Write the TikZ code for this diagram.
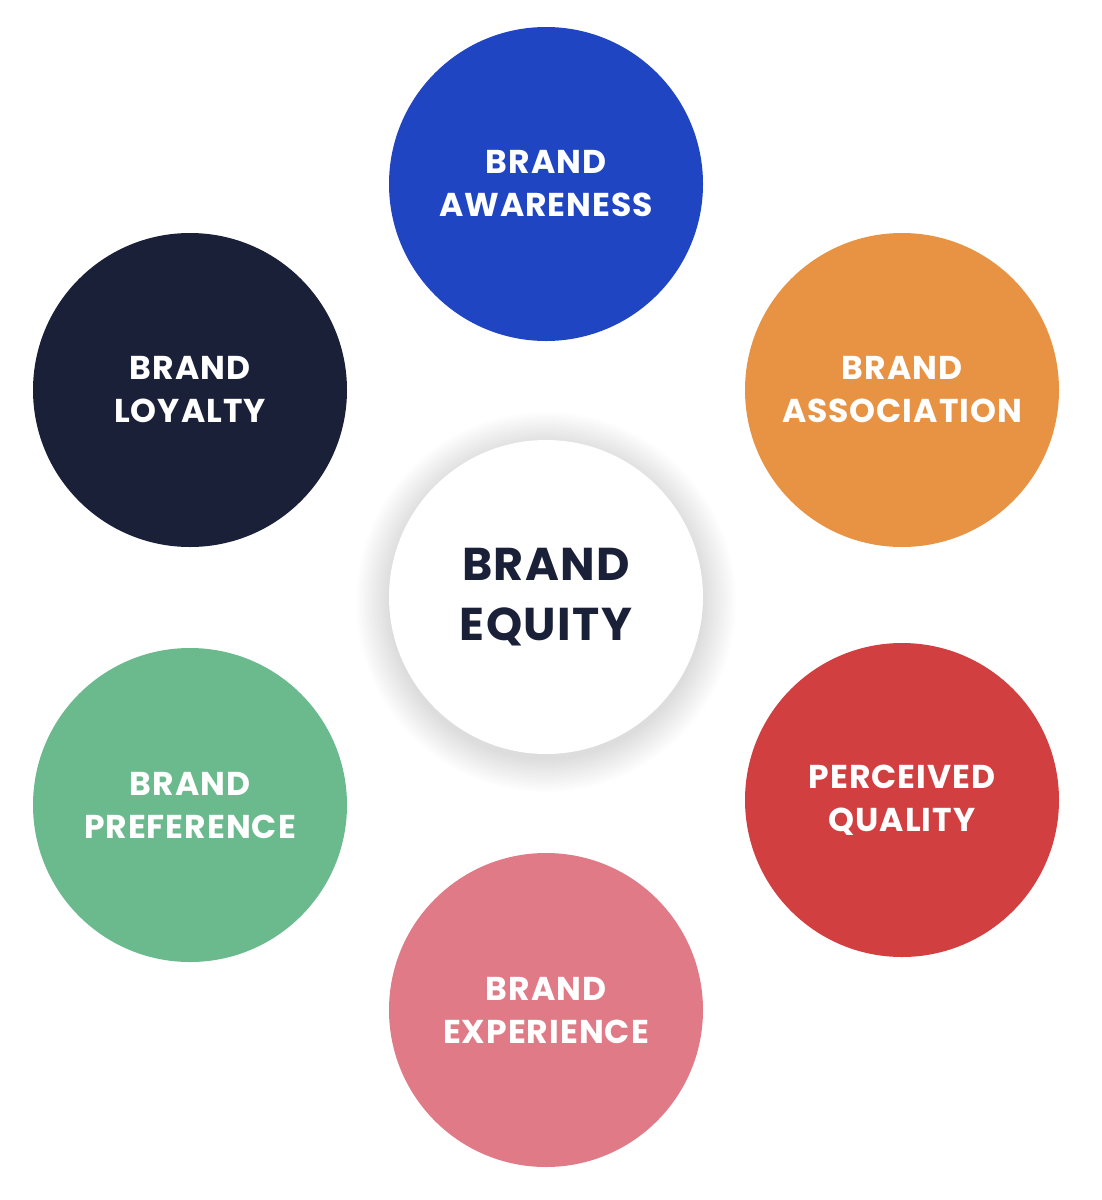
\documentclass[tikz,border=0pt]{standalone}
\usepackage{fontspec}
\setmainfont{Poppins}
\newfontfamily\wideface[LetterSpace=3]{Poppins}
\definecolor{cblue}{HTML}{1F45C2}
\definecolor{cnavy}{HTML}{1B2039}
\definecolor{corange}{HTML}{E89244}
\definecolor{cred}{HTML}{D23F41}
\definecolor{cpink}{HTML}{E07A87}
\definecolor{cgreen}{HTML}{6ABA8E}
\begin{document}
\begin{tikzpicture}[x=1pt,y=-1pt,
  bub/.style={circle,minimum size=314pt,inner sep=0pt,text=white,align=center,
    font=\wideface\fontsize{33}{43}\selectfont\bfseries},
  hub/.style={circle,minimum size=314pt,inner sep=0pt,fill=white,text=cnavy,align=center,
    font=\wideface\fontsize{46}{60}\selectfont\bfseries}]
\useasboundingbox[fill=white] (0,0) rectangle (1102,1200);
% soft shadow of the hub
\foreach \r in {158,160,...,190}{
  \fill[black,opacity=0.009] (546,602) circle (\r pt);}
\node[bub,fill=cblue]   (aw) at (546,184) {BRAND\\AWARENESS};
\node[bub,fill=cnavy]   (lo) at (190,390) {BRAND\\LOYALTY};
\node[bub,fill=corange] (as) at (902,390) {BRAND\\ASSOCIATION};
\node[hub]              (eq) at (546,597) {BRAND\\EQUITY};
\node[bub,fill=cgreen]  (pr) at (190,805) {BRAND\\PREFERENCE};
\node[bub,fill=cred]    (qu) at (902,800) {PERCEIVED\\QUALITY};
\node[bub,fill=cpink]   (ex) at (546,1010) {BRAND\\EXPERIENCE};
\end{tikzpicture}
\end{document}
